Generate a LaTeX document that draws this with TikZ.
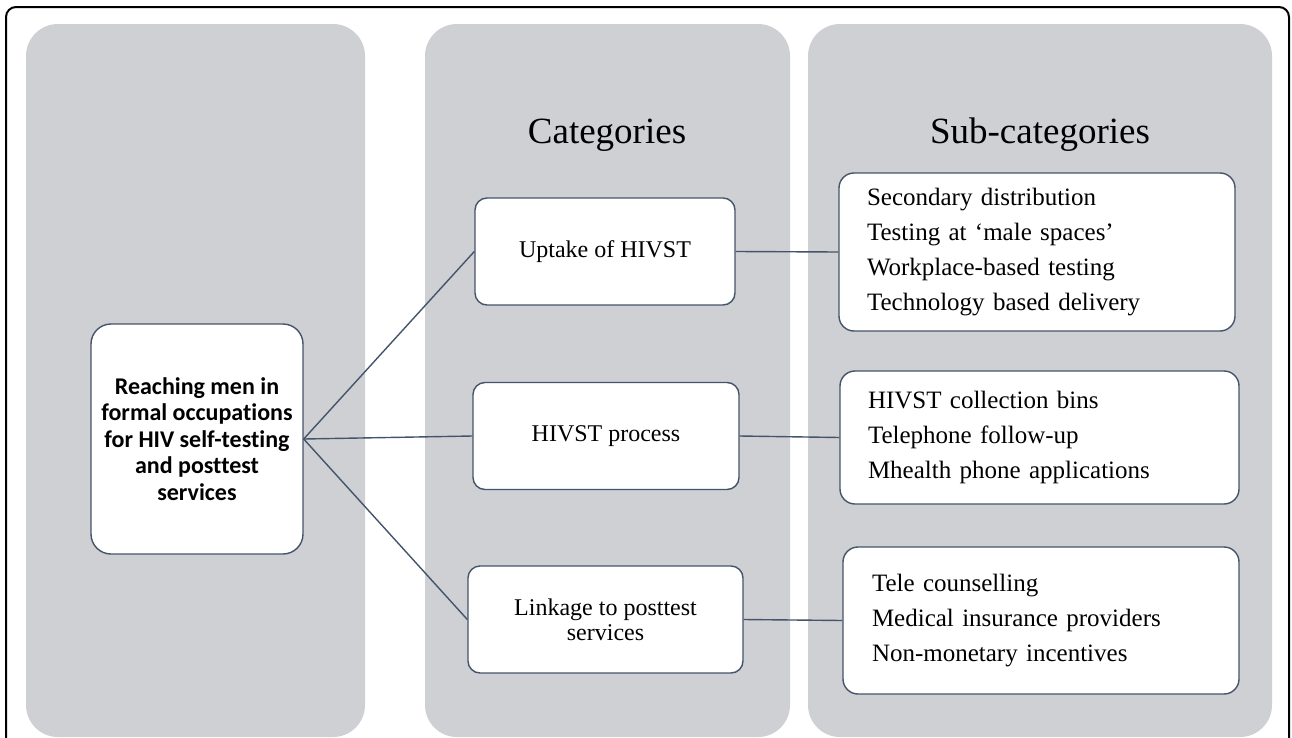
\documentclass[tikz,border=0pt]{standalone}
\usepackage{fontspec}
\setmainfont{Liberation Serif}
\newfontfamily\calibri[Ligatures=NoCommon]{Carlito}
\usepackage{tikz}
\usetikzlibrary{positioning}
\definecolor{colgray}{RGB}{207,208,212}
\definecolor{slate}{RGB}{68,84,106}

\begin{document}
\begin{tikzpicture}[
  column/.style={fill=colgray,rounded corners=32bp},
  box/.style={draw=slate,line width=1.4bp,fill=white,inner sep=0pt},
  catbox/.style={box,rounded corners=12bp,minimum height=107bp,align=center,font=\fontsize{24bp}{25bp}\selectfont},
  subbox/.style={box,rounded corners=15bp,align=left,inner xsep=28bp,font=\fontsize{25bp}{35bp}\selectfont},
  head/.style={anchor=base,font=\fontsize{37bp}{40bp}\selectfont},
  link/.style={draw=slate,line width=1.4bp}]

\useasboundingbox (0bp,0bp) rectangle (1292bp,-738bp);
\draw [line width=2bp,rounded corners=10bp] (6bp,-738bp) -- (6bp,-7bp) -- (1289bp,-7bp) -- (1289bp,-738bp);

\fill [column] (26bp,-24bp) rectangle (365bp,-737bp);
\fill [column] (425bp,-24bp) rectangle (790bp,-737bp);
\fill [column] (808bp,-24bp) rectangle (1272bp,-737bp);

\node (cathead) at (607bp,-143bp)[head] {Categories};
\node (subhead) at (1040bp,-143bp)[head] {Sub-categories};

\node (root) at (197bp,-439bp)[box,rounded corners=20bp,minimum width=212bp,minimum height=230bp,align=center,font=\calibri\bfseries\fontsize{24bp}{26.5bp}\selectfont] {Reaching men in\\formal occupations\\for HIV self-testing\\and posttest\\services};

\node (uptake) at (605bp,-251.5bp)[catbox,minimum width=260bp] {Uptake of HIVST};
\node (process) at (606bp,-436bp)[catbox,minimum width=266bp] {HIVST process};
\node (linkage) at (605.5bp,-619.5bp)[catbox,minimum width=275bp] {Linkage to posttest\\services};

\node (sub1) at (1037bp,-252bp)[subbox,text width=340bp,minimum height=158bp] {Secondary distribution\\Testing at `male spaces'\\Workplace-based testing\\Technology based delivery};
\node (sub2) at (1039.5bp,-437.5bp)[subbox,text width=343bp,minimum height=133bp] {HIVST collection bins\\Telephone follow-up\\Mhealth phone applications};
\node (sub3) at (1041bp,-620.5bp)[subbox,inner xsep=29bp,text width=338bp,minimum height=147bp] {Tele counselling\\Medical insurance providers\\Non-monetary incentives};

\draw [link] (root.east) to (uptake.west);
\draw [link] (root.east) to (process.west);
\draw [link] (root.east) to (linkage.west);
\draw [link] (uptake.east) to (sub1.west);
\draw [link] (process.east) to (sub2.west);
\draw [link] (linkage.east) to (sub3.west);
\end{tikzpicture}
\end{document}
